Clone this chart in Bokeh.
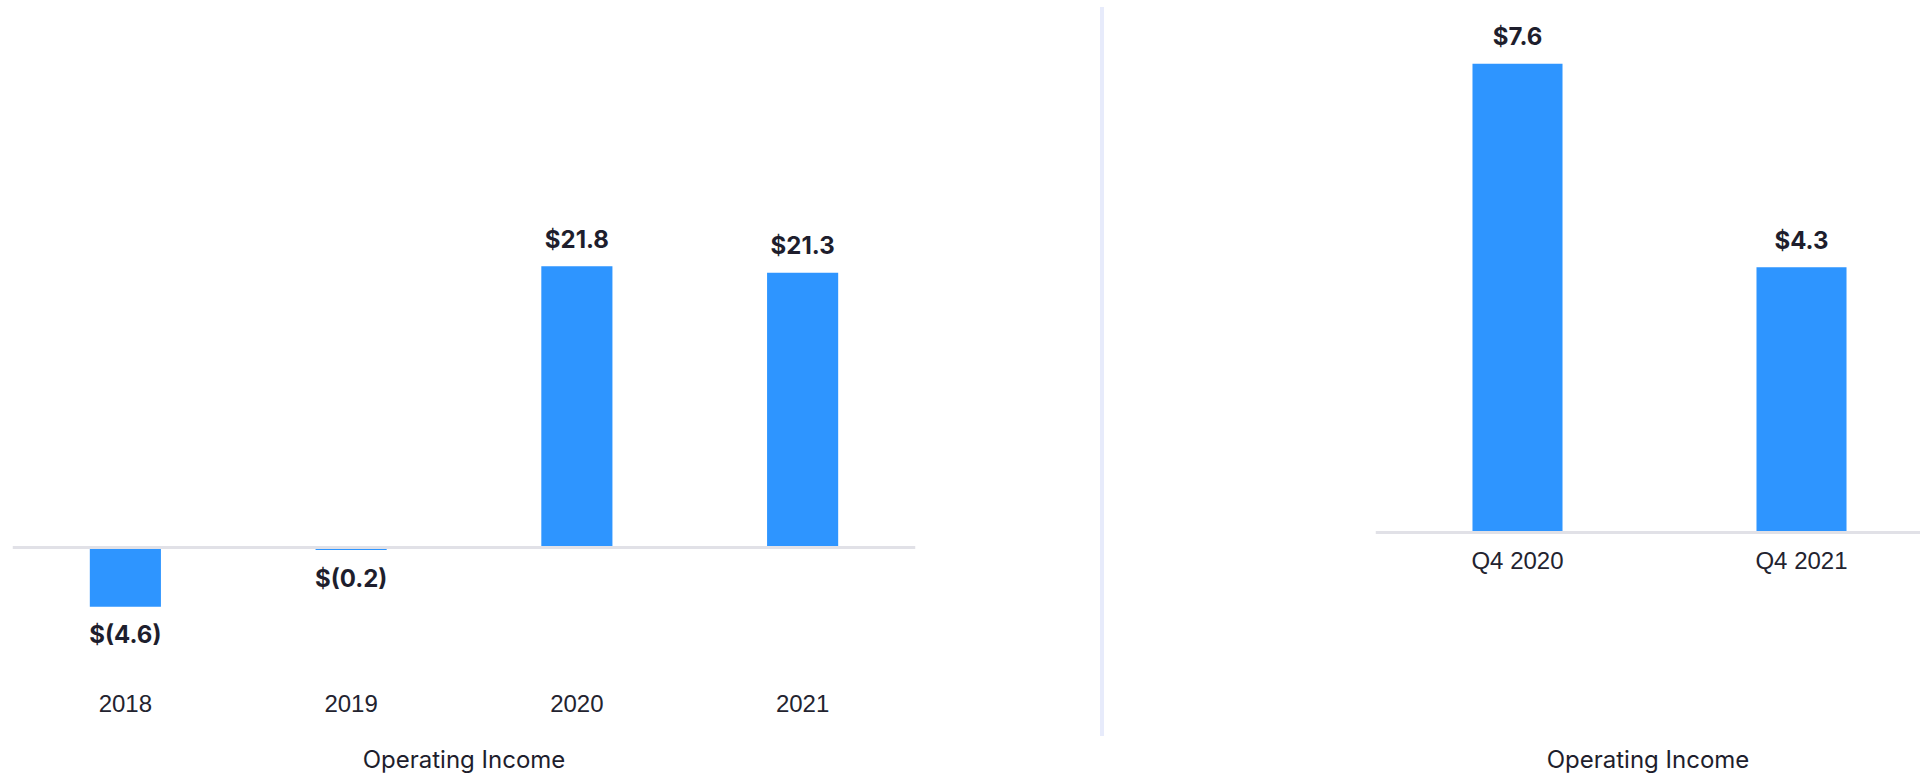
from bokeh.plotting import figure
from bokeh.layouts import row
from bokeh.models import ColumnDataSource, Span, Range1d, FixedTicker, Div, FactorRange
from bokeh.core.properties import value
from bokeh.embed import file_html
from bokeh.resources import INLINE

# ---- data ----
years = ["2018", "2019", "2020", "2021"]
annual_income = [-4.6, -0.2, 21.8, 21.3]
quarters = ["Q4 2020", "Q4 2021"]
quarter_income = [7.6, 4.3]
axis_title = "Operating Income"

BAR = "#2e95ff"
TEXT = "#1e1e2d"
TICK = "#23232f"
BASE = "#e1e1e7"
DIVIDER = "#e7ebfb"


def fmt(v):
    return f"${v:.1f}" if v >= 0 else f"$({-v:.1f})"


def style(p, tick_standoff, label_standoff):
    p.xgrid.visible = False
    p.ygrid.visible = False
    p.outline_line_color = None
    p.background_fill_color = "white"
    p.border_fill_color = "white"
    ax = p.xaxis[0]
    ax.axis_line_color = None
    ax.major_tick_line_color = None
    ax.minor_tick_line_color = None
    ax.major_tick_out = 0
    ax.major_tick_in = 0
    ax.minor_tick_out = 0
    ax.minor_tick_in = 0
    ax.major_label_standoff = tick_standoff
    ax.major_label_text_font = "Liberation Sans"
    ax.major_label_text_font_size = "24px"
    ax.major_label_text_color = TICK
    ax.axis_label = axis_title
    ax.axis_label_text_font = "Inter"
    ax.axis_label_text_font_style = "normal"
    ax.axis_label_text_font_size = "24px"
    ax.axis_label_text_color = TEXT
    ax.axis_label_text_line_height = 0.5
    ax.axis_label_standoff = label_standoff
    p.add_layout(Span(location=0, dimension="width", line_color=BASE, line_width=3))


def add_bars(p, xs, vals, width):
    src = ColumnDataSource(dict(
        x=xs,
        top=vals,
        label=[fmt(v) for v in vals],
        off=[-27 if v >= 0 else 28 for v in vals],
    ))
    p.vbar(x="x", top="top", bottom=0, width=width, source=src,
           fill_color=BAR, line_color=None)
    p.text(x="x", y="top", text="label", y_offset="off", source=src,
           text_align="center", text_baseline="middle",
           text_font=value("Inter"), text_font_style="bold",
           text_font_size="24px", text_color=TEXT)


# ---- left chart: annual ----
p1 = figure(x_range=FactorRange(factors=years), y_range=Range1d(-9.62, 41.63),
            width=1100, height=776,
            min_border_left=12, min_border_right=185,
            min_border_top=10, min_border_bottom=100,
            output_backend="svg", toolbar_location=None,
            y_axis_location=None)
add_bars(p1, years, annual_income, 0.315)
style(p1, 23, 30)

# ---- divider ----
div = Div(text="", width=4, height=729, margin=(7, 0, 0, 0),
          styles={"background-color": DIVIDER})

# ---- right chart: quarterly ----
qx = list(range(len(quarters)))
p2 = figure(x_range=Range1d(-0.5, 1.419), y_range=Range1d(-2.252, 8.463),
            width=816, height=776,
            min_border_left=271, min_border_right=0,
            min_border_top=10, min_border_bottom=100,
            output_backend="svg", toolbar_location=None,
            y_axis_location=None)
add_bars(p2, qx, quarter_income, 0.317)
style(p2, -125, 168)
p2.xaxis[0].ticker = FixedTicker(ticks=qx)
p2.xaxis[0].major_label_overrides = {i: q for i, q in zip(qx, quarters)}

layout = row(p1, div, p2, spacing=0)

open("out.html", "w").write(file_html(layout, INLINE))
